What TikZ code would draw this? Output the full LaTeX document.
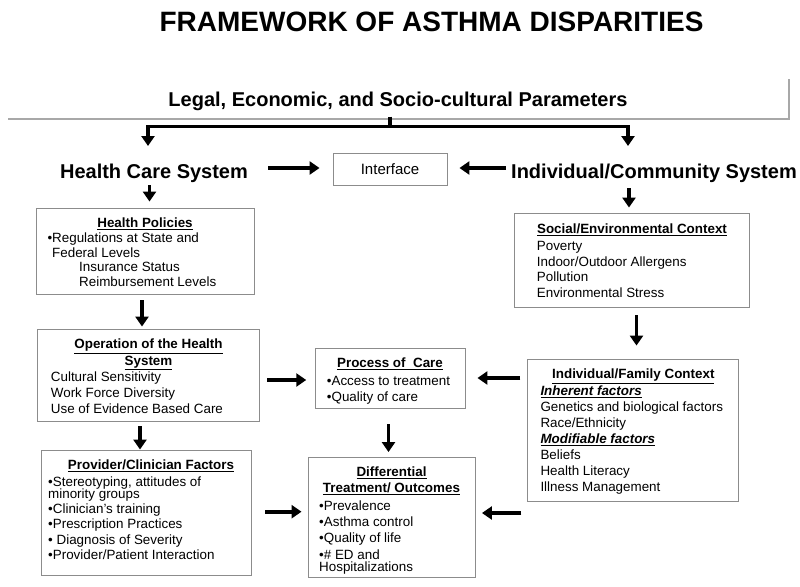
\documentclass[tikz,border=0pt]{standalone}
\usepackage{fontspec}
\setmainfont{Liberation Sans}
\usetikzlibrary{arrows.meta}
\definecolor{boxgray}{HTML}{8C8C8C}
\definecolor{rulegray}{HTML}{A8A8A8}
\begin{document}
\begin{tikzpicture}[x=1pt,y=-1pt,
  box/.style={draw=boxgray, line width=0.9pt, inner sep=0pt},
  hdr/.style={font=\fontsize{13.4}{16}\selectfont\bfseries, inner sep=0pt, anchor=base},
  body/.style={inner sep=0pt, align=left, anchor=north west},
  big/.style={font=\fontsize{20}{24}\selectfont\bfseries, inner sep=0pt, anchor=base},
  arr/.style={line width=3.6pt, line join=miter, -{Triangle[width=13pt,length=10pt]}},
  thk/.style={line width=3.4pt, line join=miter}
]
\useasboundingbox (0,0) rectangle (800,586);

% title and top parameters
\node[font=\fontsize{28}{32}\selectfont\bfseries, inner sep=0pt, anchor=base] (title) at (431.5,32) {FRAMEWORK OF ASTHMA DISPARITIES};
\node[big] (legal) at (398,106) {Legal, Economic, and Socio-cultural Parameters};
\draw[rulegray, line width=1.6pt, line join=miter] (8,119) -- (789,119) -- (789,79);

\coordinate (stubtop) at (390,116.5);
\coordinate (junc) at (390,126.5);
\coordinate (hcsin) at (148,146);
\coordinate (icsin) at (628,146);
\draw[thk] (stubtop) -- (junc);
\draw[arr] (junc) -| (hcsin);
\draw[arr] (junc) -| (icsin);

% systems
\node[big] (hcs) at (154,178) {Health Care System};
\node[big] (ics) at (654,178) {Individual/Community System};
\node[box, minimum width=114pt, minimum height=32pt, font=\fontsize{15}{18}\selectfont] (iface) at (390,169) {Interface};

% left column
\node[box, minimum width=218pt, minimum height=86pt] (hp) at (145,251) {};
\node[hdr] (hpt) at (145,227.5) {\underline{Health Policies}};
\node[body, font=\fontsize{13.4}{14.6}\selectfont] (hpb) at (47.3,232.3)
  {\strut•Regulations at State and\\
   \hspace*{4.7pt}Federal Levels\\
   \hspace*{31.7pt}Insurance Status\\
   \hspace*{31.7pt}Reimbursement Levels};

\node[box, minimum width=222pt, minimum height=92pt] (op) at (148,375) {};
\node[hdr] (opt1) at (148.5,348.8) {\underline{Operation of the Health}};
\node[hdr] (opt2) at (148.5,365.4) {\underline{System}};
\node[body, font=\fontsize{13.4}{16}\selectfont] (opb) at (50.7,370.3)
  {\strut Cultural Sensitivity\\ Work Force Diversity\\ Use of Evidence Based Care};

\node[box, minimum width=210pt, minimum height=125pt] (prov) at (146,512.5) {};
\node[hdr] (provt) at (151,469.8) {\underline{Provider/Clinician Factors}};
\node[body, font=\fontsize{13.4}{15.1}\selectfont] (provb) at (48,475.9)
  {\strut•Stereotyping, attitudes of\\[-3pt]
   minority groups\\
   •Clinician's training\\
   •Prescription Practices\\
   • Diagnosis of Severity\\
   •Provider/Patient Interaction};

% middle column
\node[box, minimum width=150pt, minimum height=60pt] (proc) at (390,378) {};
\node[hdr] (proct) at (390,367.8) {\underline{Process of\ \ Care}};
\node[body, font=\fontsize{13.4}{15.7}\selectfont] (procb) at (326.7,374.8)
  {\strut•Access to treatment\\ •Quality of care};

\node[box, minimum width=167pt, minimum height=120pt] (diff) at (391.5,517) {};
\node[hdr] (difft1) at (391.5,476.5) {\underline{Differential}};
\node[hdr] (difft2) at (391.5,492.8) {\underline{Treatment/ Outcomes}};
\node[body, font=\fontsize{13.4}{16.4}\selectfont] (diffb) at (319,498.5)
  {\strut•Prevalence\\ •Asthma control\\ •Quality of life\\ •\# ED and\\[-4.5pt] Hospitalizations};

% right column
\node[box, minimum width=235pt, minimum height=94pt] (soc) at (631.5,260) {};
\node[hdr] (soct) at (632,233.8) {\underline{Social/Environmental Context}};
\node[body, font=\fontsize{13.4}{15.7}\selectfont] (socb) at (536.7,239.2)
  {\strut Poverty\\ Indoor/Outdoor Allergens\\ Pollution\\ Environmental Stress};

\node[box, minimum width=211pt, minimum height=142pt] (fam) at (633,430) {};
\node[hdr] (famt) at (633.3,378.8) {\underline{Individual/Family Context}};
\node[body, font=\fontsize{13.4}{16}\selectfont] (famb) at (540.3,384.3)
  {\strut\textbf{\textit{\underline{Inherent factors}}}\\
   Genetics and biological factors\\
   Race/Ethnicity\\
   \textbf{\textit{\underline{Modifiable factors}}}\\
   Beliefs\\ Health Literacy\\ Illness Management};

% connectors
\draw[arr] ([xshift=20pt,yshift=10pt]hcs.base east) -- ([xshift=-13pt,yshift=1pt]iface.west);
\draw[arr] ([xshift=-5pt,yshift=10pt]ics.base west) -- ([xshift=12pt,yshift=1pt]iface.east);
\draw[arr] ([xshift=-4.5pt,yshift=-3pt]hcs.south) -- ([xshift=4.5pt,yshift=6pt]hp.north);
\draw[arr] ([xshift=-25pt,yshift=-6pt]ics.south) -- ([xshift=-2.5pt,yshift=5pt]soc.north);
\draw[arr] ([xshift=-3pt,yshift=-6pt]hp.south) -- ([xshift=-6pt,yshift=2pt]op.north);
\draw[arr] ([xshift=-8pt,yshift=-5pt]op.south) -- ([xshift=-6pt,yshift=0pt]prov.north);
\draw[arr] ([xshift=7.7pt,yshift=-5pt]op.east) -- ([xshift=-8.3pt,yshift=-2pt]proc.west);
\draw[arr] ([xshift=-1.5pt,yshift=-16pt]proc.south) -- ([xshift=-3pt,yshift=4.5pt]diff.north);
\draw[arr] ([xshift=14pt,yshift=0.8pt]prov.east) -- ([xshift=-6pt,yshift=5.3pt]diff.west);
\draw[arr] ([xshift=5pt,yshift=-8pt]soc.south) -- ([xshift=3.5pt,yshift=13pt]fam.north);
\draw[arr] ([xshift=-6.7pt,yshift=52pt]fam.west) -- ([xshift=12pt,yshift=0pt]proc.east);
\draw[arr] ([xshift=-5.7pt,yshift=-83pt]fam.west) -- ([xshift=6.5pt,yshift=4pt]diff.east);
\end{tikzpicture}
\end{document}
